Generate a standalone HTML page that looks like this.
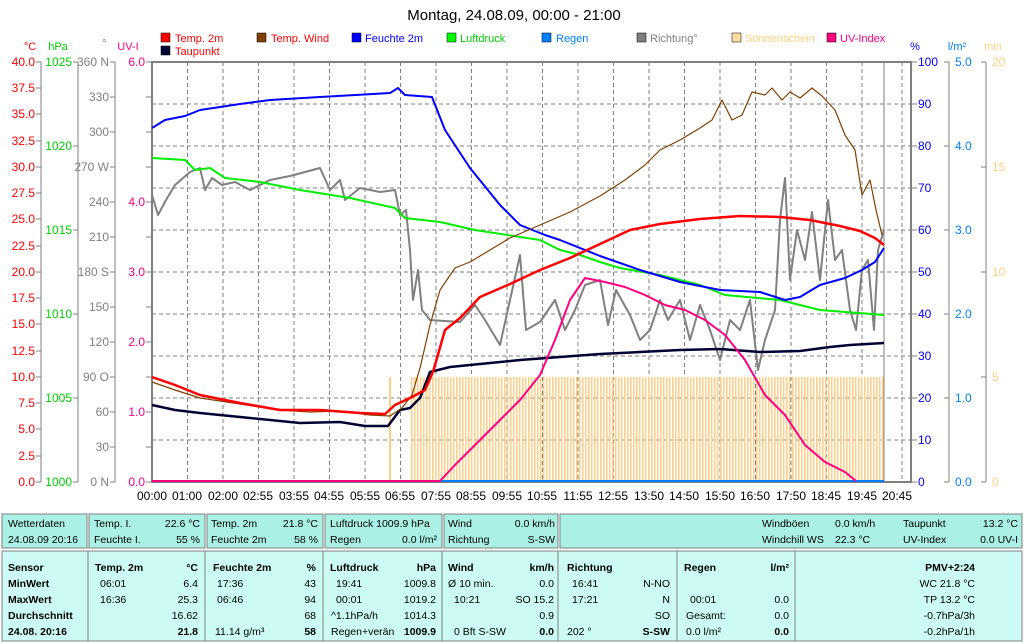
<!DOCTYPE html><html><head><meta charset="utf-8"><style>
body{margin:0;background:#fff}svg{display:block;font-family:"Liberation Sans",sans-serif}
</style></head><body>
<svg width="1024" height="644" viewBox="0 0 1024 644" xmlns="http://www.w3.org/2000/svg" font-size="11">
<defs><pattern id="sun" width="3" height="10" patternUnits="userSpaceOnUse"><rect width="1.5" height="10" fill="#ffcf8a"/></pattern></defs>
<text x="514" y="20" font-size="15" text-anchor="middle">Montag, 24.08.09, 00:00 - 21:00</text>
<g font-size="11">
<rect x="161" y="33" width="9" height="9" fill="#f00" stroke="#000" stroke-width=".5"/><text x="175" y="42" fill="#f00">Temp. 2m</text>
<rect x="161" y="46" width="9" height="9" fill="#000033" stroke="#000" stroke-width=".5"/><text x="175" y="55" fill="#f00">Taupunkt</text>
<rect x="257" y="33" width="9" height="9" fill="#804000" stroke="#000" stroke-width=".5"/><text x="271" y="42" fill="#f00">Temp. Wind</text>
<rect x="352" y="33" width="9" height="9" fill="#00f" stroke="#000" stroke-width=".5"/><text x="365" y="42" fill="#00f">Feuchte 2m</text>
<rect x="447" y="33" width="9" height="9" fill="#0f0" stroke="#000" stroke-width=".5"/><text x="460" y="42" fill="#0c0">Luftdruck</text>
<rect x="542" y="33" width="9" height="9" fill="#0080ff" stroke="#000" stroke-width=".5"/><text x="556" y="42" fill="#0080ff">Regen</text>
<rect x="637" y="33" width="9" height="9" fill="#808080" stroke="#000" stroke-width=".5"/><text x="650" y="42" fill="#808080">Richtung°</text>
<rect x="732" y="33" width="9" height="9" fill="#ffdca0" stroke="#000" stroke-width=".5"/><text x="745" y="42" fill="#ffd080">Sonnenschein</text>
<rect x="827" y="33" width="9" height="9" fill="#ff0080" stroke="#000" stroke-width=".5"/><text x="840" y="42" fill="#ff0080">UV-Index</text>
</g>
<g font-size="11"><text x="30" y="50" fill="#f00" text-anchor="middle">°C</text><text x="58" y="50" fill="#0c0" text-anchor="middle">hPa</text><text x="102" y="47" fill="#808080">°</text><text x="128" y="50" fill="#ff0080" text-anchor="middle">UV-I</text>
<text x="915" y="50" fill="#00f" text-anchor="middle">%</text><text x="957" y="50" fill="#0080ff" text-anchor="middle">l/m²</text><text x="993" y="50" fill="#ffd080" text-anchor="middle">min</text></g>
<g stroke="#808080" stroke-dasharray="4,3" stroke-width="1">
<path d="M152 104H911M152 146H911M152 188H911M152 230H911M152 272H911M152 314H911M152 356H911M152 398H911M152 440H911"/>
<path d="M187.5 62V482M223 62V482M258.5 62V482M294 62V482M329.5 62V482M365 62V482M400.5 62V482M436 62V482M471.5 62V482M507 62V482M542.5 62V482M578 62V482M613.5 62V482M649 62V482M684.5 62V482M720 62V482M755.5 62V482M791 62V482M826.5 62V482M862 62V482M902 62V482"/>
</g>
<path d="M884 62V482" stroke="#808080"/>
<rect x="410" y="377" width="474" height="105" fill="url(#sun)"/>
<rect x="389" y="377" width="2" height="105" fill="#ffcf8a"/>
<g stroke="#808080" fill="none">
<rect x="152" y="62" width="759" height="420" stroke-width="2"/>
<path d="M41 62V482M78 62V482M115 62V482M949 62V482M986 62V482"/>
</g>
<g font-size="12" text-anchor="end" fill="#f00">
<text x="35" y="66">40.0</text><text x="35" y="92">37.5</text><text x="35" y="118">35.0</text><text x="35" y="145">32.5</text><text x="35" y="171">30.0</text><text x="35" y="197">27.5</text><text x="35" y="223">25.0</text><text x="35" y="250">22.5</text><text x="35" y="276">20.0</text><text x="35" y="302">17.5</text><text x="35" y="328">15.0</text><text x="35" y="355">12.5</text><text x="35" y="381">10.0</text><text x="35" y="407">7.5</text><text x="35" y="433">5.0</text><text x="35" y="460">2.5</text><text x="35" y="486">0.0</text></g>
<path d="M36 62H41M36 88H41M36 114H41M36 141H41M36 167H41M36 193H41M36 219H41M36 246H41M36 272H41M36 298H41M36 324H41M36 351H41M36 377H41M36 403H41M36 429H41M36 456H41M36 482H41" stroke="#808080"/>
<g font-size="12" text-anchor="end" fill="#0c0"><text x="72" y="66">1025</text><text x="72" y="150">1020</text><text x="72" y="234">1015</text><text x="72" y="318">1010</text><text x="72" y="402">1005</text><text x="72" y="486">1000</text></g>
<path d="M73 62H78M73 146H78M73 230H78M73 314H78M73 398H78M73 482H78M110 62H115M110 97H115M110 132H115M110 167H115M110 202H115M110 237H115M110 272H115M110 307H115M110 342H115M110 377H115M110 412H115M110 447H115M110 482H115M146 62H152M146 97H152M146 132H152M146 167H152M146 202H152M146 237H152M146 272H152M146 307H152M146 342H152M146 377H152M146 412H152M146 447H152M146 482H152" stroke="#808080"/>
<g font-size="12" text-anchor="end" fill="#808080"><text x="109" y="66">360 N</text><text x="109" y="101">330</text><text x="109" y="136">300</text><text x="109" y="171">270 W</text><text x="109" y="206">240</text><text x="109" y="241">210</text><text x="109" y="276">180 S</text><text x="109" y="311">150</text><text x="109" y="346">120</text><text x="109" y="381">90  O</text><text x="109" y="416">60</text><text x="109" y="451">30</text><text x="109" y="486">0   N</text></g>
<g font-size="12" text-anchor="end" fill="#ff0080"><text x="145" y="66">6.0</text><text x="145" y="206">4.0</text><text x="145" y="276">3.0</text><text x="145" y="346">2.0</text><text x="145" y="416">1.0</text><text x="145" y="486">0.0</text></g>
<path d="M911 62H917M911 104H917M911 146H917M911 188H917M911 230H917M911 272H917M911 314H917M911 356H917M911 398H917M911 440H917M911 482H917M944 62H949M944 146H949M944 230H949M944 314H949M944 398H949M944 482H949M981 62H986M981 167H986M981 272H986M981 377H986M981 482H986" stroke="#808080"/>
<g font-size="12" fill="#00f"><text x="918" y="66">100</text><text x="918" y="108">90</text><text x="918" y="150">80</text><text x="918" y="192">70</text><text x="918" y="234">60</text><text x="918" y="276">50</text><text x="918" y="318">40</text><text x="918" y="360">30</text><text x="918" y="402">20</text><text x="918" y="444">10</text><text x="918" y="486">0</text></g>
<g font-size="12" fill="#0080ff"><text x="955" y="66">5.0</text><text x="955" y="150">4.0</text><text x="955" y="234">3.0</text><text x="955" y="318">2.0</text><text x="955" y="402">1.0</text><text x="955" y="486">0.0</text></g>
<g font-size="12" fill="#ffd080"><text x="992" y="66">20</text><text x="992" y="171">15</text><text x="992" y="276">10</text><text x="992" y="381">5</text><text x="992" y="486">0</text></g>
<g font-size="12" text-anchor="middle"><text x="152" y="500">00:00</text><text x="187" y="500">01:00</text><text x="223" y="500">02:00</text><text x="258" y="500">02:55</text><text x="294" y="500">03:55</text><text x="329" y="500">04:55</text><text x="365" y="500">05:55</text><text x="400" y="500">06:55</text><text x="436" y="500">07:55</text><text x="471" y="500">08:55</text><text x="507" y="500">09:55</text><text x="542" y="500">10:55</text><text x="578" y="500">11:55</text><text x="613" y="500">12:55</text><text x="649" y="500">13:50</text><text x="684" y="500">14:50</text><text x="720" y="500">15:50</text><text x="755" y="500">16:50</text><text x="791" y="500">17:50</text><text x="826" y="500">18:45</text><text x="862" y="500">19:45</text><text x="897" y="500">20:45</text></g>
<g fill="none" stroke-linejoin="round">
<path d="M152 481H884" stroke="#0080ff" stroke-width="2"/>
<path d="M152 195L158 215L166 200L175 185L190 172L200 168L205 190L212 178L222 185L235 182L250 190L270 180L290 176L305 172L320 168L330 190L340 180L345 200L360 188L380 192L395 190L400 215L406 210L410 250L413 300L418 270L422 310L430 320L460 322L475 305L485 320L500 345L510 300L520 255L526 330L540 322L555 300L565 330L575 310L585 285L600 280L608 325L616 290L630 315L640 340L650 330L660 300L668 320L680 300L690 340L700 305L710 330L720 360L730 320L740 330L750 300L758 370L765 340L775 310L780 220L785 178L790 280L797 230L805 260L812 212L820 280L828 200L835 260L842 250L850 310L856 330L862 270L868 260L874 330L878 250L884 230" stroke="#808080" stroke-width="2"/>
<path d="M152 158L185 160L195 170L210 168L225 178L260 182L300 190L350 198L395 208L405 218L440 222L475 230L540 240L560 250L580 255L600 262L620 268L660 275L700 285L725 295L780 300L820 310L884 315" stroke="#00ee00" stroke-width="2"/>
<path d="M152 128L165 120L185 116L200 110L240 104L270 100L320 97L390 93L398 88L405 95L432 97L445 130L470 168L500 205L520 225L545 235L560 240L600 256L640 270L680 282L720 290L760 292L785 300L800 297L820 285L845 278L862 270L875 262L884 248" stroke="#0000ff" stroke-width="2"/>
<path d="M152 405L175 410L200 413L250 418L300 423L340 422L365 426L388 426L400 410L410 408L420 398L430 372L450 367L480 364L520 360L560 357L600 354L640 352L680 350L720 349L760 352L800 351L830 347L850 345L884 343" stroke="#000033" stroke-width="2.5"/>
<path d="M152 382L175 390L200 398L240 404L280 410L310 412L340 411L370 415L390 416L402 408L412 395L420 368L430 325L440 290L455 268L470 262L490 250L510 238L540 225L570 212L600 196L625 180L645 165L660 150L680 140L700 128L712 120L722 100L732 120L742 115L752 92L765 95L772 88L782 100L790 92L800 98L812 88L822 96L835 110L845 135L855 150L862 195L870 180L876 210L882 235" stroke="#804000" stroke-width="1.2"/>
<path d="M152 377L175 385L200 395L240 403L280 410L320 410L360 413L385 414L395 405L410 398L425 390L433 372L445 330L460 318L480 297L510 284L540 270L570 258L600 244L630 230L660 224L700 219L740 216L780 217L810 220L840 226L860 231L875 238L884 245" stroke="#ff0000" stroke-width="2.5"/>
<path d="M152 481H440L455 465L475 445L500 420L520 400L540 375L555 340L570 300L585 278L605 282L625 287L645 295L665 305L685 310L705 320L725 335L745 360L765 395L785 415L805 445L825 462L845 472L856 481" stroke="#ff0080" stroke-width="2"/>
</g>
<g fill="#aaf0e4" stroke="#808080">
<rect x="2" y="514" width="85" height="34"/><rect x="89" y="514" width="116" height="34"/><rect x="207" y="514" width="116" height="34"/><rect x="325" y="514" width="117" height="34"/><rect x="444" y="514" width="114" height="34"/><rect x="560" y="514" width="462" height="34"/></g>
<g fill="#ccfaf5" stroke="#808080"><rect x="2" y="551" width="1020" height="90"/></g>
<path d="M88 551V641M205 551V641M323 551V641M442 551V641M558 551V641M677 551V641M795 551V641" stroke="#808080"/>
<g font-size="10.5">
<text x="8" y="527">Wetterdaten</text><text x="8" y="543">24.08.09 20:16</text>
<text x="94" y="527">Temp. I.</text><text x="200" y="527" text-anchor="end">22.6 °C</text><text x="94" y="543">Feuchte I.</text><text x="200" y="543" text-anchor="end">55 %</text>
<text x="211" y="527">Temp. 2m</text><text x="318" y="527" text-anchor="end">21.8 °C</text><text x="211" y="543">Feuchte 2m</text><text x="318" y="543" text-anchor="end">58 %</text>
<text x="330" y="527">Luftdruck 1009.9 hPa</text><text x="330" y="543">Regen</text><text x="437" y="543" text-anchor="end">0.0 l/m²</text>
<text x="448" y="527">Wind</text><text x="555" y="527" text-anchor="end">0.0 km/h</text><text x="448" y="543">Richtung</text><text x="555" y="543" text-anchor="end">S-SW</text>
<text x="762" y="527">Windböen</text><text x="835" y="527">0.0 km/h</text><text x="762" y="543">Windchill WS</text><text x="835" y="543">22.3 °C</text>
<text x="903" y="527">Taupunkt</text><text x="1018" y="527" text-anchor="end">13.2 °C</text><text x="903" y="543">UV-Index</text><text x="1018" y="543" text-anchor="end">0.0 UV-I</text>
</g>
<g font-size="10.5" font-weight="bold"><text x="8" y="571">Sensor</text><text x="8" y="587">MinWert</text><text x="8" y="603">MaxWert</text><text x="8" y="619">Durchschnitt</text><text x="8" y="635">24.08. 20:16</text>
<text x="95" y="571">Temp. 2m</text><text x="198" y="571" text-anchor="end">°C</text><text x="213" y="571">Feuchte 2m</text><text x="316" y="571" text-anchor="end">%</text><text x="330" y="571">Luftdruck</text><text x="436" y="571" text-anchor="end">hPa</text><text x="448" y="571">Wind</text><text x="554" y="571" text-anchor="end">km/h</text><text x="567" y="571">Richtung</text><text x="684" y="571">Regen</text><text x="789" y="571" text-anchor="end">l/m²</text><text x="975" y="571" text-anchor="end">PMV+2:24</text>
<text x="198" y="635" text-anchor="end">21.8</text><text x="316" y="635" text-anchor="end">58</text><text x="436" y="635" text-anchor="end">1009.9</text><text x="554" y="635" text-anchor="end">0.0</text><text x="670" y="635" text-anchor="end">S-SW</text><text x="789" y="635" text-anchor="end">0.0</text></g>
<g font-size="10.5">
<text x="100" y="587">06:01</text><text x="198" y="587" text-anchor="end">6.4</text><text x="100" y="603">16:36</text><text x="198" y="603" text-anchor="end">25.3</text><text x="198" y="619" text-anchor="end">16.62</text>
<text x="217" y="587">17:36</text><text x="316" y="587" text-anchor="end">43</text><text x="217" y="603">06:46</text><text x="316" y="603" text-anchor="end">94</text><text x="316" y="619" text-anchor="end">68</text><text x="215" y="635">11.14 g/m³</text>
<text x="336" y="587">19:41</text><text x="436" y="587" text-anchor="end">1009.8</text><text x="336" y="603">00:01</text><text x="436" y="603" text-anchor="end">1019.2</text><text x="331" y="619">^1.1hPa/h</text><text x="436" y="619" text-anchor="end">1014.3</text><text x="331" y="635">Regen+verän</text>
<text x="448" y="587">Ø 10 min.</text><text x="554" y="587" text-anchor="end">0.0</text><text x="454" y="603">10:21</text><text x="554" y="603" text-anchor="end">SO 15.2</text><text x="554" y="619" text-anchor="end">0.9</text><text x="454" y="635">0 Bft S-SW</text>
<text x="572" y="587">16:41</text><text x="670" y="587" text-anchor="end">N-NO</text><text x="572" y="603">17:21</text><text x="670" y="603" text-anchor="end">N</text><text x="670" y="619" text-anchor="end">SO</text><text x="567" y="635">202 °</text>
<text x="690" y="603">00:01</text><text x="789" y="603" text-anchor="end">0.0</text><text x="686" y="619">Gesamt:</text><text x="789" y="619" text-anchor="end">0.0</text><text x="686" y="635">0.0 l/m²</text>
<text x="975" y="587" text-anchor="end">WC 21.8 °C</text><text x="975" y="603" text-anchor="end">TP 13.2 °C</text><text x="975" y="619" text-anchor="end">-0.7hPa/3h</text><text x="975" y="635" text-anchor="end">-0.2hPa/1h</text>
</g>
</svg>
</body></html>
